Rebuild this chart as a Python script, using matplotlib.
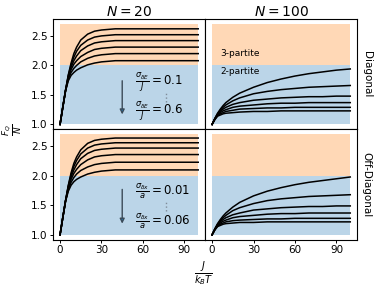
import numpy as np
import matplotlib
matplotlib.use('Agg')
import matplotlib.pyplot as plt

# J / k_B T sample points
x_n20 = [0, 2, 4, 6, 8, 10, 12, 15, 20, 25, 30, 40, 50, 60, 70, 80, 90, 100]
x_n100 = [0, 2, 4, 6, 8, 10, 15, 20, 30, 40, 50, 60, 70, 80, 90, 100]

# N = 20, diagonal disorder (sigma_dE/J = 0.1 ... 0.6)
diag_n20 = [
    [1.00, 1.29, 1.58, 1.84, 2.04, 2.20, 2.31, 2.43, 2.53, 2.58, 2.60, 2.62, 2.62, 2.62, 2.62, 2.62, 2.62, 2.62],
    [1.00, 1.29, 1.58, 1.83, 2.01, 2.14, 2.24, 2.34, 2.43, 2.48, 2.50, 2.52, 2.52, 2.52, 2.52, 2.52, 2.52, 2.52],
    [1.00, 1.29, 1.58, 1.81, 1.97, 2.08, 2.16, 2.25, 2.33, 2.38, 2.40, 2.42, 2.42, 2.42, 2.42, 2.42, 2.42, 2.42],
    [1.00, 1.29, 1.57, 1.79, 1.93, 2.02, 2.08, 2.15, 2.22, 2.27, 2.29, 2.31, 2.31, 2.31, 2.31, 2.31, 2.31, 2.31],
    [1.00, 1.29, 1.57, 1.77, 1.88, 1.95, 2.00, 2.06, 2.12, 2.16, 2.18, 2.20, 2.20, 2.20, 2.20, 2.20, 2.20, 2.20],
    [1.00, 1.29, 1.57, 1.74, 1.83, 1.88, 1.92, 1.96, 2.01, 2.04, 2.06, 2.08, 2.08, 2.08, 2.08, 2.08, 2.08, 2.08],
]
# N = 20, off-diagonal disorder (sigma_dx/a = 0.01 ... 0.06)
offd_n20 = [
    [1.00, 1.29, 1.58, 1.84, 2.05, 2.21, 2.32, 2.44, 2.55, 2.60, 2.62, 2.64, 2.64, 2.64, 2.64, 2.64, 2.64, 2.64],
    [1.00, 1.29, 1.58, 1.83, 2.02, 2.16, 2.26, 2.37, 2.47, 2.52, 2.54, 2.56, 2.56, 2.56, 2.56, 2.56, 2.56, 2.56],
    [1.00, 1.29, 1.58, 1.81, 1.98, 2.10, 2.19, 2.29, 2.38, 2.43, 2.45, 2.47, 2.47, 2.47, 2.47, 2.47, 2.47, 2.47],
    [1.00, 1.29, 1.57, 1.79, 1.94, 2.04, 2.11, 2.19, 2.27, 2.32, 2.34, 2.36, 2.36, 2.36, 2.36, 2.36, 2.36, 2.36],
    [1.00, 1.29, 1.57, 1.77, 1.89, 1.97, 2.03, 2.09, 2.15, 2.19, 2.21, 2.23, 2.23, 2.23, 2.23, 2.23, 2.23, 2.23],
    [1.00, 1.29, 1.57, 1.74, 1.84, 1.90, 1.94, 1.98, 2.03, 2.06, 2.08, 2.10, 2.10, 2.10, 2.10, 2.10, 2.10, 2.10],
]
# N = 100
diag_n100 = [
    [1.00, 1.10, 1.19, 1.26, 1.32, 1.37, 1.46, 1.53, 1.63, 1.71, 1.77, 1.82, 1.86, 1.89, 1.92, 1.94],
    [1.00, 1.10, 1.18, 1.24, 1.29, 1.33, 1.40, 1.45, 1.52, 1.56, 1.59, 1.61, 1.63, 1.64, 1.65, 1.66],
    [1.00, 1.09, 1.17, 1.22, 1.26, 1.29, 1.34, 1.37, 1.41, 1.43, 1.45, 1.46, 1.47, 1.47, 1.48, 1.48],
    [1.00, 1.09, 1.16, 1.20, 1.23, 1.25, 1.29, 1.31, 1.33, 1.35, 1.36, 1.36, 1.37, 1.37, 1.37, 1.37],
    [1.00, 1.09, 1.15, 1.18, 1.20, 1.22, 1.24, 1.26, 1.27, 1.28, 1.28, 1.29, 1.29, 1.29, 1.29, 1.29],
    [1.00, 1.08, 1.14, 1.16, 1.18, 1.19, 1.20, 1.21, 1.22, 1.22, 1.23, 1.23, 1.23, 1.23, 1.23, 1.23],
]
offd_n100 = [
    [1.00, 1.10, 1.19, 1.26, 1.32, 1.37, 1.47, 1.55, 1.66, 1.74, 1.80, 1.85, 1.89, 1.92, 1.95, 1.98],
    [1.00, 1.10, 1.18, 1.24, 1.29, 1.33, 1.41, 1.46, 1.53, 1.58, 1.61, 1.63, 1.65, 1.66, 1.67, 1.68],
    [1.00, 1.09, 1.17, 1.22, 1.26, 1.29, 1.34, 1.37, 1.42, 1.44, 1.46, 1.47, 1.48, 1.48, 1.49, 1.49],
    [1.00, 1.09, 1.16, 1.20, 1.23, 1.25, 1.29, 1.31, 1.33, 1.35, 1.36, 1.36, 1.37, 1.37, 1.37, 1.37],
    [1.00, 1.09, 1.15, 1.18, 1.20, 1.22, 1.24, 1.25, 1.26, 1.27, 1.27, 1.28, 1.28, 1.28, 1.28, 1.28],
    [1.00, 1.08, 1.14, 1.16, 1.18, 1.19, 1.20, 1.21, 1.21, 1.22, 1.22, 1.22, 1.22, 1.22, 1.22, 1.22],
]

col_titles = ['$N = 20$', '$N = 100$']
row_labels = ['Diagonal', 'Off-Diagonal']
xticks = [0, 30, 60, 90]
yticks = [1.0, 1.5, 2.0, 2.5]
region_x = [0, 100]
bi_range = [1.0, 2.0]
tri_range = [2.0, 2.7]

fig, axs = plt.subplots(2, 2, figsize=(3.74, 2.89), dpi=100, sharex=True, sharey=True)
fig.subplots_adjust(left=0.142, right=0.955, top=0.934, bottom=0.17, wspace=0, hspace=0)

panels = [[(x_n20, diag_n20), (x_n100, diag_n100)],
          [(x_n20, offd_n20), (x_n100, offd_n100)]]

for i in range(2):
    for j in range(2):
        ax = axs[i, j]
        xs, curves = panels[i][j]
        ax.fill_between(region_x, bi_range[0], bi_range[1], color='tab:blue', alpha=0.3, lw=0)
        ax.fill_between(region_x, tri_range[0], tri_range[1], color='tab:orange', alpha=0.3, lw=0)
        for c in curves:
            ax.plot(xs, c, color='k', lw=1.1)
        ax.set_xticks(xticks)
        ax.set_yticks(yticks)
        ax.tick_params(labelsize=7.5, length=2.5, width=0.7, pad=1.5)
        if i == 0:
            ax.tick_params(bottom=False)
            ax.set_title(col_titles[j], fontsize=10, pad=2)
        if j == 1:
            ax.tick_params(left=False)
            ax.text(1.03, 0.5, row_labels[i], transform=ax.transAxes, rotation=270,
                    va='center', ha='left', fontsize=7.5)

axs[0, 0].set_ylim(0.915, 2.785)

# sigma annotations
ann = [('$\\frac{\\sigma_{\\delta E}}{J} = 0.1$', '$\\frac{\\sigma_{\\delta E}}{J} = 0.6$', 1.74, 1.17),
       ('$\\frac{\\sigma_{\\delta x}}{a} = 0.01$', '$\\frac{\\sigma_{\\delta x}}{a} = 0.06$', 1.77, 1.19)]
for i, (t1, t2, ytop, ybot) in enumerate(ann):
    ax = axs[i, 0]
    ax.annotate('', xy=(45, ybot), xytext=(45, ytop),
                arrowprops=dict(arrowstyle='-|>', fc='tab:blue', ec='#3b4a57', lw=1.0,
                                mutation_scale=7, shrinkA=0, shrinkB=0))
    ax.text(54, ytop - 0.04, t1, fontsize=8.5, va='center', ha='left')
    ax.text(54, ybot + 0.04, t2, fontsize=8.5, va='center', ha='left')
    ymid = (ytop + ybot) / 2
    ax.vlines(77, ymid - 0.07, ymid + 0.07, colors='#7f8c99', linestyles=':', lw=1.0)

axs[0, 1].text(6, 2.2, '3-partite', fontsize=6.5, va='center')
axs[0, 1].text(6, 1.89, '2-partite', fontsize=6.5, va='center')

fig.text(0.035, 0.55, '$\\frac{F_Q}{N}$', rotation=90, fontsize=9, va='center', ha='center')
fig.text(0.545, 0.055, '$\\frac{J}{k_BT}$', fontsize=10, va='center', ha='center')

fig.savefig('out.png', dpi=100)
